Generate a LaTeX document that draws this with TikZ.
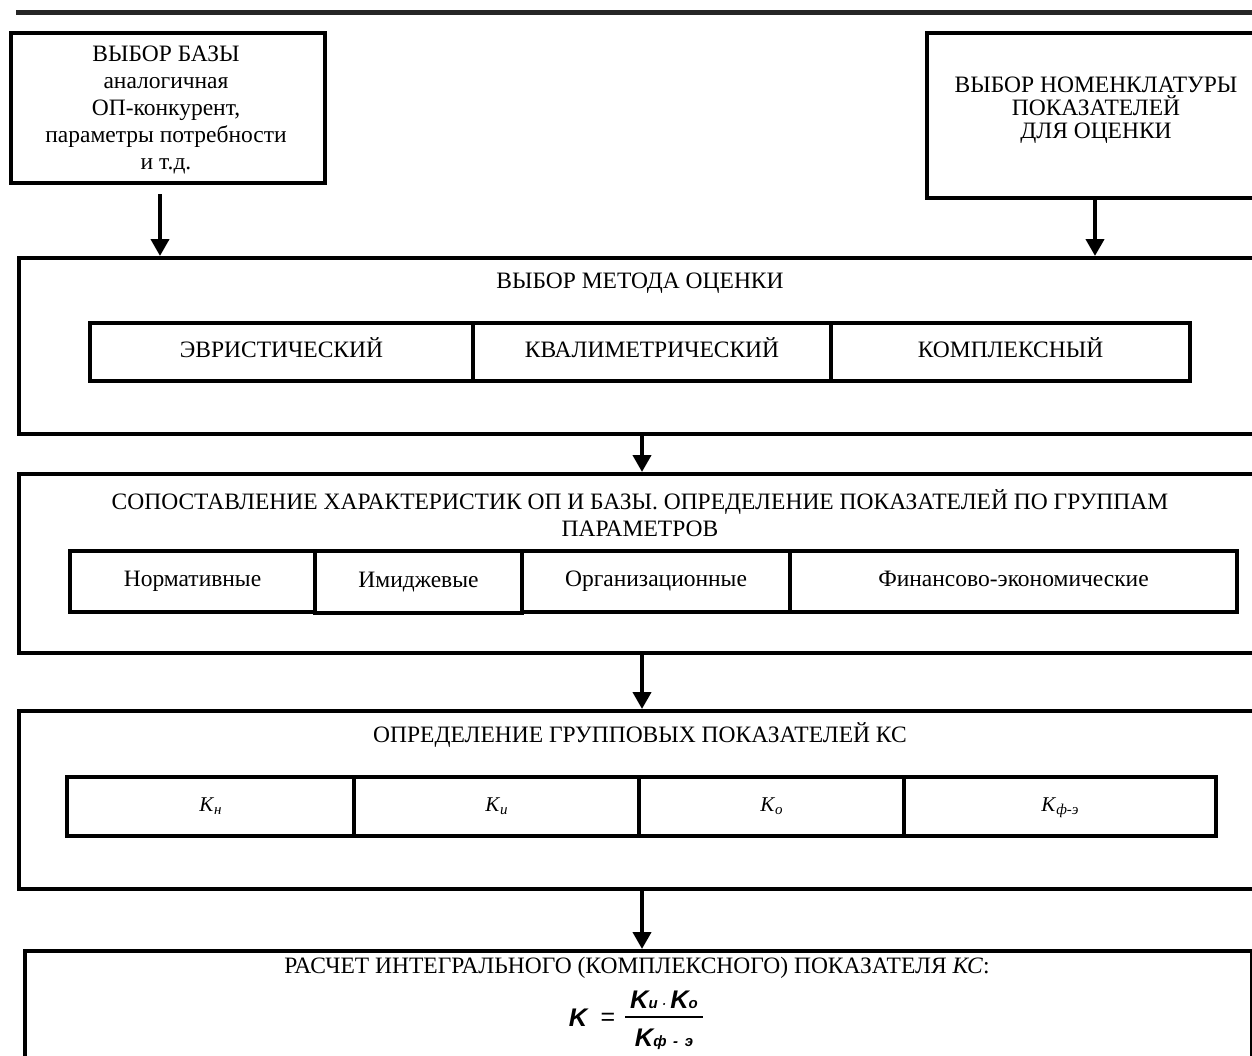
\documentclass[tikz,border=0pt]{standalone}
\usepackage{fontspec}
\setmainfont{Liberation Serif}
\newfontfamily\formfont{Liberation Sans}
\usetikzlibrary{arrows.meta}
\newcommand\mainsize{\fontsize{23.5}{27}\selectfont}
\newcommand\ksub[1]{\textit{K}\raisebox{-3pt}{\fontsize{15}{15}\selectfont\itshape #1}}
\begin{document}
\begin{tikzpicture}[x=1pt,y=-1pt,
  box/.style={draw, line width=4pt, inner sep=0pt, anchor=north west, font=\mainsize, align=center},
  cell/.style={box, text height=16pt, text depth=6pt},
  txt/.style={font=\mainsize, inner sep=0pt, align=center},
  ktxt/.style={font=\fontsize{21}{24}\selectfont},
  arr/.style={line width=4pt, -{Triangle[width=18pt,length=17pt]}},
  fb/.style={font=\formfont\bfseries\itshape\fontsize{25.5}{28}\selectfont, inner sep=0pt}]
\useasboundingbox (0,0) rectangle (1252,1055);
\clip (0,0) rectangle (1252,1055);
\fill[white] (0,0) rectangle (1252,1055);
% top rule
\draw[line width=5pt, black!85] (16,12.5) -- (1260,12.5);
% top boxes
\node[box, minimum width=314pt, minimum height=150pt] (base) at (9,31) {};
\node[txt] (baset) at (166,110)
  {ВЫБОР БАЗЫ\\аналогичная\\ОП-конкурент,\\параметры потребности\\и т.д.};
\node[box, minimum width=336pt, minimum height=165pt] (nom) at (925,31) {};
\node[txt, font=\fontsize{23.5}{23}\selectfont] (nomt) at (1096,110)
  {ВЫБОР НОМЕНКЛАТУРЫ\\ПОКАЗАТЕЛЕЙ\\ДЛЯ ОЦЕНКИ};
% block 1
\node[box, minimum width=1246pt, minimum height=176pt] (m1) at (17,256) {};
\node[txt] (m1t) at (640,283) {ВЫБОР МЕТОДА ОЦЕНКИ};
\node[cell, minimum width=383pt, minimum height=58pt] (c11) at (88,321) {ЭВРИСТИЧЕСКИЙ};
\node[cell, minimum width=358pt, minimum height=58pt] (c12) at (471,321) {КВАЛИМЕТРИЧЕСКИЙ};
\node[cell, minimum width=359pt, minimum height=58pt] (c13) at (829,321) {КОМПЛЕКСНЫЙ};
% block 2
\node[box, minimum width=1246pt, minimum height=179pt] (m2) at (17,472) {};
\node[txt] (m2t) at (640,513) {СОПОСТАВЛЕНИЕ ХАРАКТЕРИСТИК ОП И БАЗЫ. ОПРЕДЕЛЕНИЕ ПОКАЗАТЕЛЕЙ ПО ГРУППАМ\\ПАРАМЕТРОВ};
\node[cell, minimum width=245pt, minimum height=61pt] (c21) at (68,549) {Нормативные};
\node[cell, minimum width=207pt, minimum height=62pt] (c22) at (313,549) {Имиджевые};
\node[cell, minimum width=268pt, minimum height=61pt] (c23) at (520,549) {Организационные};
\node[cell, minimum width=447pt, minimum height=61pt] (c24) at (788,549) {Финансово-экономические};
% block 3
\node[box, minimum width=1246pt, minimum height=178pt] (m3) at (17,709) {};
\node[txt] (m3t) at (640,735) {ОПРЕДЕЛЕНИЕ ГРУППОВЫХ ПОКАЗАТЕЛЕЙ КС};
\node[cell, ktxt, minimum width=287pt, minimum height=59pt] (c31) at (65,775) {\ksub{н}};
\node[cell, ktxt, minimum width=285pt, minimum height=59pt] (c32) at (352,775) {\ksub{и}};
\node[cell, ktxt, minimum width=265pt, minimum height=59pt] (c33) at (637,775) {\ksub{о}};
\node[cell, ktxt, minimum width=312pt, minimum height=59pt] (c34) at (902,775) {\ksub{ф-э}};
% block 4
\node[box, minimum width=1227pt, minimum height=130pt] (m4) at (23,949) {};
\node[txt] (m4t) at (637,968) {РАСЧЕТ ИНТЕГРАЛЬНОГО (КОМПЛЕКСНОГО) ПОКАЗАТЕЛЯ \textit{КС}:};
% formula
\node[fb] (fK) at (578,1018) {K};
\node[inner sep=0pt, font=\formfont\fontsize{25}{28}\selectfont] (feq) at (608,1019) {=};
\node[fb] (fnum) at (664,1000) {K{\fontsize{15}{15}\selectfont и}\,{\fontsize{12}{12}\selectfont ·}\,K{\fontsize{15}{15}\selectfont о}};
\node[fb] (fden) at (664,1039) {K{\fontsize{15}{15}\selectfont ф\, -\, э}};
\coordinate (fbar1) at (625,1017);
\coordinate (fbar2) at (703,1017);
\draw[line width=1.8pt] (fbar1) -- (fbar2);
% arrows
\coordinate (a1) at (160,194);
\draw[arr] (a1) -- (a1 |- m1.north);
\draw[arr] (nom.south) -- (nom.south |- m1.north);
\draw[arr] (m1.south) -- (m1.south |- m2.north);
\draw[arr] (m2.south) -- (m2.south |- m3.north);
\draw[arr] (m3.south) -- (m3.south |- m4.north);
\end{tikzpicture}
\end{document}
